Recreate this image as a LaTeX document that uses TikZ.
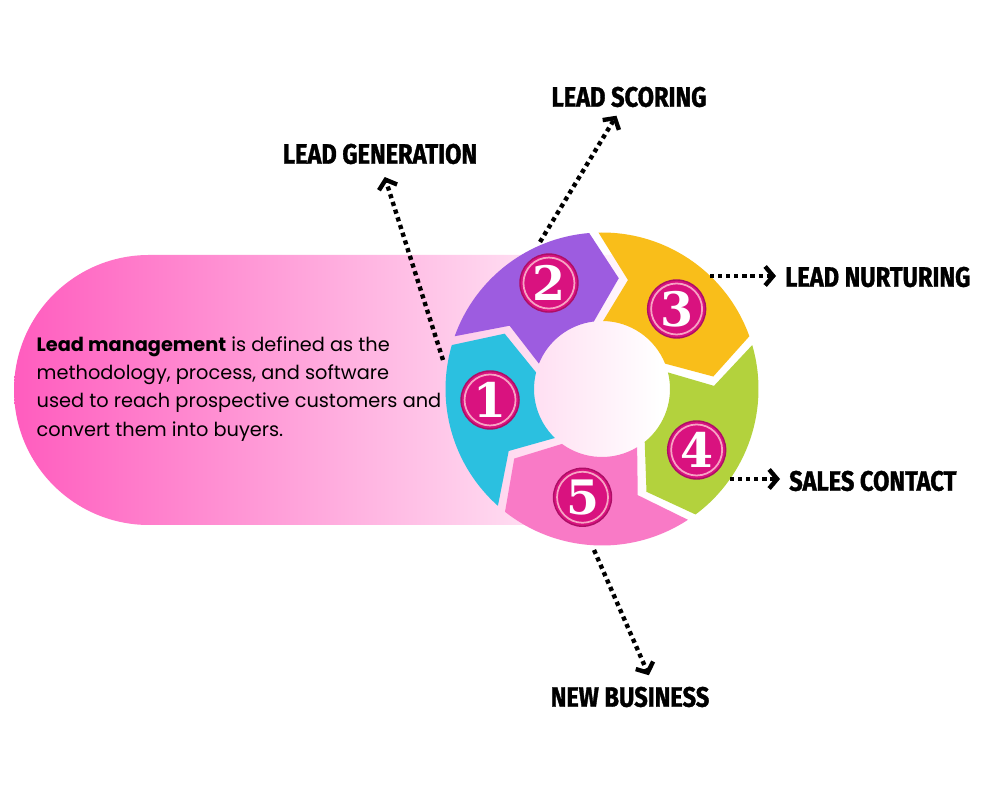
\documentclass[tikz,border=0pt]{standalone}
\usepackage{fontspec}
\usepackage{xcolor}
\usetikzlibrary{arrows.meta,calc,positioning}
\setmainfont{Poppins}
\newfontfamily\labelfont[FakeStretch=0.84, BoldFeatures={FakeBold=1.2}]{Fira Sans}
\newfontfamily\numfont{DejaVu Serif}

\definecolor{hotpink}{HTML}{FF5CBE}
\definecolor{segcyan}{HTML}{2BC0E0}
\definecolor{segpurple}{HTML}{9D5CE0}
\definecolor{segyellow}{HTML}{F9BE1A}
\definecolor{seggreen}{HTML}{B3D23D}
\definecolor{segpink}{HTML}{F97AC6}
\definecolor{badge}{HTML}{D9127F}
\definecolor{badgering}{HTML}{F7A3C4}

\tikzset{
  steplabel/.style={font=\labelfont\bfseries\fontsize{8}{8}\selectfont, inner sep=1pt},
  dotarrow/.style={line width=1.25pt, dash pattern=on 1.2pt off 1.1pt,
    -{Straight Barb[length=0.8mm, width=1.9mm, line width=1.25pt]}},
  badgecircle/.style={circle, fill=badge, draw=badge!80!black, line width=0.4pt,
    minimum size=5.8mm, inner sep=0pt, text=white,
    font=\numfont\bfseries\fontsize{13.5}{13.5}\selectfont}
}

\begin{document}
\begin{tikzpicture}
  \fill[white] (0,0) rectangle (10,8);
  \useasboundingbox (0,0) rectangle (10,8);

  % Pink capsule behind the text
  \shade[left color=hotpink, right color=white] (1.49,2.75) arc[start angle=270, end angle=90, radius=1.35]
    -- (6.6,5.45) -- (6.6,2.75) -- cycle;

  \node[font=\fontsize{5.5}{8}\selectfont, align=left, anchor=west, inner sep=0pt] (desc) at (0.36,4.11)
    {\textbf{Lead management} is defined as the\\methodology, process, and software\\used to reach prospective customers and\\convert them into buyers.};

  % Ring of arrow segments
  \coordinate (ring) at (6.02,4.11);
  \foreach \col/\tl/\hd in {segcyan/230/162, segpurple/162/93, segyellow/93/18, seggreen/18/-55, segpink/-55/-130}
    \fill[\col] ($(ring)+(\tl-1.7:1.565)$) arc[start angle=\tl-1.7, end angle=\hd+1.7, radius=1.565]
      -- ($(ring)+(\hd-14+2.4:1.12)$) -- ($(ring)+(\hd+3.9:0.68)$)
      arc[start angle=\hd+3.9, end angle=\tl-3.9, radius=0.68]
      -- ($(ring)+(\tl-14-2.4:1.12)$) -- cycle;

  % Numbered badges
  \foreach \n/\ang/\rad in {1/185.6/1.125, 2/116.6/1.185, 3/47/1.094, 4/-32.8/1.126, 5/-100.2/1.10} {
    \node[badgecircle] (b\n) at ($(ring)+(\ang:\rad)$) {\n};
    \draw[badgering, line width=0.5pt] (b\n.center) circle (0.255);
  }

  % Step labels
  \node[steplabel] (gen) at (3.80,6.46) {LEAD GENERATION};
  \node[steplabel] (scor) at (6.29,7.03) {LEAD SCORING};
  \node[steplabel, anchor=west] (nurt) at (7.81,5.23) {LEAD NURTURING};
  \node[steplabel, anchor=west] (sales) at (7.85,3.19) {SALES CONTACT};
  \node[steplabel] (newb) at (6.30,1.03) {NEW BUSINESS};

  % Dotted pointers
  \coordinate (p1) at (4.43,4.40);
  \coordinate (p2) at (5.40,5.58);
  \coordinate (p3) at (7.10,5.24);
  \coordinate (p4) at (7.30,3.21);
  \coordinate (p5) at (5.94,2.50);
  \draw[dotarrow, shorten >=0.9mm] (p1) -- ([xshift=0.2mm]gen.south);
  \draw[dotarrow, shorten >=0.5mm] (p2) -- ([xshift=-1mm]scor.south);
  \draw[dotarrow, shorten >=0.5mm] (p3) -- (nurt.west |- p3);
  \draw[dotarrow, shorten >=0.5mm] (p4) -- (sales.west |- p4);
  \draw[dotarrow, shorten >=0.8mm] (p5) -- ([xshift=2.2mm]newb.north);
\end{tikzpicture}
\end{document}
